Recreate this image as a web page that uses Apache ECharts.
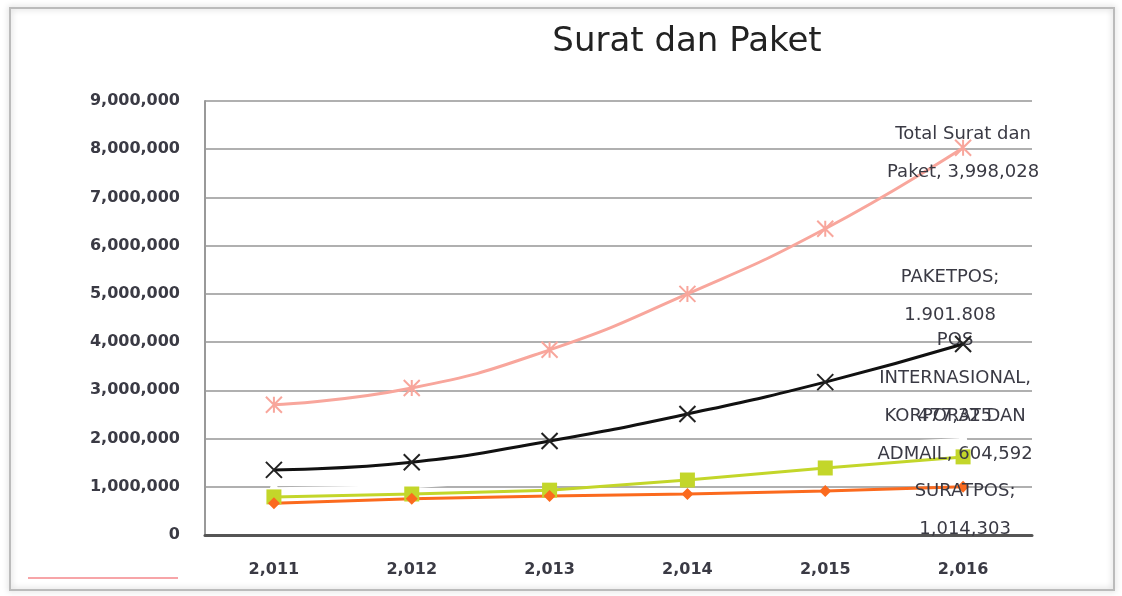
<!DOCTYPE html>
<html>
<head>
<meta charset="utf-8">
<script src="https://cdn.jsdelivr.net/npm/echarts@6/dist/echarts.min.js"></script>
<style>
  html, body { margin: 0; padding: 0; background: #fff; }
  #chart { width: 1122px; height: 596px; }
</style>
</head>
<body>
<div id="chart"></div>
<script>
// data
const years = ['2,011', '2,012', '2,013', '2,014', '2,015', '2,016'];
const totalSuratPaket = [2700000, 3050000, 3840000, 5000000, 6350000, 8030000];
const paketPos = [1350000, 1510000, 1950000, 2510000, 3170000, 3960000];
const posInternasional = [790000, 850000, 930000, 1140000, 1390000, 1620000];
const layananLain = [960000, 1000000, 1180000, 1450000, 1850000, 1980000];
const suratPos = [660000, 750000, 810000, 850000, 910000, 1000000];
const yTicks = [0, 1000000, 2000000, 3000000, 4000000, 5000000, 6000000, 7000000, 8000000, 9000000];

const labelFont = {
  fontFamily: 'DejaVu Sans, sans-serif',
  fontSize: 18,
  color: '#3a3a44',
  lineHeight: 38,
  align: 'center'
};

// only the last point gets a text label
function endLabel(text, offset) {
  return {
    show: true,
    formatter: function (p) { return p.dataIndex === 5 ? text : ''; },
    position: 'inside',
    offset: offset,
    ...labelFont
  };
}

const chart = echarts.init(document.getElementById('chart'));

chart.setOption({
  backgroundColor: '#fff',
  animation: false,
  title: {
    text: 'Surat dan Paket',
    left: 682,
    top: 20,
    textAlign: 'center',
    textStyle: {
      fontFamily: 'DejaVu Sans, sans-serif',
      fontSize: 34,
      fontWeight: 'normal',
      color: '#222'
    }
  },
  grid: { left: 205, right: 90, top: 101, bottom: 61 },
  xAxis: {
    type: 'category',
    data: years,
    boundaryGap: true,
    axisLine: { lineStyle: { color: '#555', width: 3 } },
    axisTick: { show: false },
    axisLabel: {
      margin: 27,
      fontFamily: 'DejaVu Sans, sans-serif',
      fontSize: 16,
      fontWeight: 'bold',
      color: '#3a3a44'
    }
  },
  yAxis: {
    type: 'value',
    min: yTicks[0],
    max: yTicks[yTicks.length - 1],
    interval: 1000000,
    axisLine: { show: true, lineStyle: { color: '#999', width: 2 } },
    axisTick: { show: false },
    splitLine: { lineStyle: { color: '#b0b0b0', width: 2 } },
    axisLabel: {
      margin: 25,
      fontFamily: 'DejaVu Sans, sans-serif',
      fontSize: 16,
      fontWeight: 'bold',
      color: '#3a3a44',
      formatter: function (v) { return v.toLocaleString('en-US'); }
    }
  },
  series: [
    {
      name: 'Total Surat dan Paket',
      type: 'line',
      data: totalSuratPaket,
      smooth: true,
      symbol: 'path://M0,0L10,10M10,0L0,10M5,0L5,10',
      symbolSize: 16,
      lineStyle: { color: '#f8a69c', width: 3 },
      itemStyle: { color: 'none', borderColor: '#f8a69c', borderWidth: 2 },
      label: endLabel('Total Surat dan\nPaket, 3,998,028', [0, 6]),
      z: 5
    },
    {
      name: 'PAKETPOS',
      type: 'line',
      data: paketPos,
      smooth: true,
      symbol: 'path://M0,0L10,10M10,0L0,10',
      symbolSize: 16,
      lineStyle: { color: '#111', width: 3 },
      itemStyle: { color: 'none', borderColor: '#222', borderWidth: 2 },
      label: endLabel('PAKETPOS;\n1.901.808', [-13, -48]),
      z: 4
    },
    {
      name: 'LAYANAN LAIN',
      type: 'line',
      data: layananLain,
      symbol: 'circle',
      symbolSize: 8,
      lineStyle: { color: '#fff', width: 3 },
      itemStyle: { color: '#fff' },
      label: endLabel('477,325', [-8, -23]),
      z: 2
    },
    {
      name: 'POS INTERNASIONAL, KORPORAT DAN ADMAIL',
      type: 'line',
      data: posInternasional,
      symbol: 'rect',
      symbolSize: 15,
      lineStyle: { color: '#c3d62a', width: 3 },
      itemStyle: { color: '#c3d62a' },
      label: endLabel('POS\nINTERNASIONAL,\nKORPORAT DAN\nADMAIL, 604,592', [-8, -60]),
      z: 3
    },
    {
      name: 'SURATPOS',
      type: 'line',
      data: suratPos,
      symbol: 'diamond',
      symbolSize: 12,
      lineStyle: { color: '#fb6a1e', width: 3 },
      itemStyle: { color: '#fb6a1e' },
      label: endLabel('SURATPOS;\n1,014,303', [2, 24]),
      z: 3
    }
  ],
  graphic: [
    {
      type: 'rect',
      shape: { x: 10, y: 8, width: 1104, height: 582 },
      style: { fill: 'none', stroke: '#bbb', lineWidth: 2, shadowBlur: 6, shadowColor: 'rgba(0,0,0,0.25)' },
      silent: true
    },
    {
      type: 'line',
      shape: { x1: 28, y1: 578, x2: 178, y2: 578 },
      style: { stroke: '#f7a5a8', lineWidth: 2 },
      silent: true
    }
  ]
});
</script>
</body>
</html>
